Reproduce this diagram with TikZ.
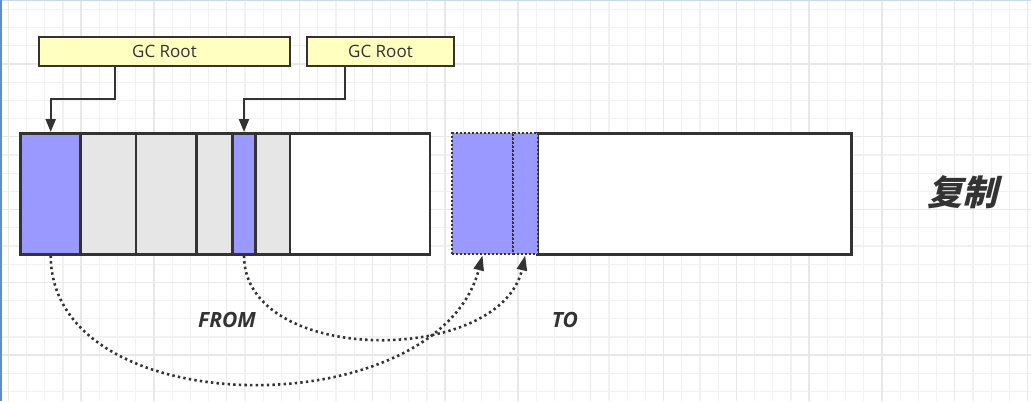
\documentclass[tikz,border=0pt]{standalone}
\usepackage{fontspec}
\setmainfont{Open Sans}
\newfontfamily\cjk[FakeSlant=0.25]{Noto Sans CJK SC}
\usetikzlibrary{arrows.meta,fit}
\definecolor{ink}{HTML}{333333}
\definecolor{blu}{HTML}{9999FF}
\definecolor{gry}{HTML}{E6E6E6}
\definecolor{yel}{HTML}{FFFFC0}
\definecolor{gridminor}{HTML}{F1F1F1}
\definecolor{gridmajor}{HTML}{E8E8E8}
\definecolor{frameblue}{HTML}{5B8FD0}
\definecolor{frametop}{HTML}{C9DAF0}
\tikzset{
  cellbox/.style={draw=ink, line width=2.6bp, inner sep=0pt},
  bluecell/.style={cellbox, fill=blu},
  graycell/.style={cellbox, fill=gry},
  whitecell/.style={cellbox, fill=white},
  dotcell/.style={draw=ink, line width=2.2bp, dash pattern=on 2bp off 2bp, fill=blu, inner sep=0pt},
  rootbox/.style={draw=ink, line width=2.4bp, fill=yel, inner sep=0pt},
  roottext/.style={text=ink, font=\fontsize{17bp}{20bp}\selectfont},
  rootarrow/.style={draw=ink, line width=2.2bp, -{Triangle[length=13bp,width=10bp]}},
  copyarrow/.style={draw=ink, line width=2.6bp, dash pattern=on 2.4bp off 3.2bp, -{Triangle[length=15bp,width=10bp]}},
  lbl/.style={text=ink, font=\fontsize{21bp}{24bp}\selectfont\bfseries\itshape}
}
\begin{document}
\begin{tikzpicture}[x=1bp,y=-1bp]
\useasboundingbox (0,0) rectangle (1031,401);
\fill[white] (0,0) rectangle (1031,401);
% grid
\foreach \i in {0,...,56} \draw[gridminor, line width=1.2bp] ({8.3+18.2*\i},0) -- ({8.3+18.2*\i},401);
\foreach \i in {0,...,21} \draw[gridminor, line width=1.2bp] (0,{9.3+18.2*\i}) -- (1031,{9.3+18.2*\i});
\foreach \i in {0,...,14} \draw[gridmajor, line width=1.4bp] ({8.3+72.8*\i},0) -- ({8.3+72.8*\i},401);
\foreach \i in {0,...,4} \draw[gridmajor, line width=1.4bp] (0,{63.9+72.8*\i}) -- (1031,{63.9+72.8*\i});
% frame edges
\fill[frametop] (0,0) rectangle (1031,1.2);
\fill[frameblue] (0,0) rectangle (1.8,401);

% GC Root boxes
\node[rootbox, fit={(39,37) (290,66)}] (r1) {};
\node[roottext] (r1t) at (r1.center) {GC Root};
\node[rootbox, fit={(307,37) (454,66)}] (r2) {};
\node[roottext] (r2t) at (r2.center) {GC Root};

% FROM bar
\node[whitecell, fit={(20.7,133.3) (430,254.3)}] (from) {};
\node[bluecell, fit={(20.7,133.3) (80.7,254.3)}] (f1) {};
\node[graycell, fit={(80.7,133.3) (136,254.3)}] (f2) {};
\node[graycell, fit={(136,133.3) (196.7,254.3)}] (f3) {};
\node[graycell, fit={(196.7,133.3) (232.3,254.3)}] (f4) {};
\node[bluecell, fit={(232.3,133.3) (255.7,254.3)}] (f5) {};
\node[graycell, fit={(255.7,133.3) (290,254.3)}] (f6) {};

% TO bar
\node[whitecell, fit={(537.7,133.3) (851.7,254.3)}] (to) {};
\node[dotcell, fit={(452.3,133.3) (512.7,254.3)}] (t1) {};
\node[dotcell, fit={(512.7,133.3) (537.7,254.3)}] (t2) {};

% root arrows
\coordinate (s1) at (115.3,66);
\coordinate (s2) at (345,66);
\draw[rootarrow] (s1) -- (115.3,99.3) -| (f1.north);
\draw[rootarrow] (s2) -- (345,99.3) -| (f5.north);

% copy arrows
\draw[copyarrow] (f1.south) .. controls (51,426) and (438,426) .. (t1.south);
\draw[copyarrow] (f5.south) .. controls (244,366) and (500,366) .. (t2.south);

% labels
\node[lbl] (lfrom) at (227,320) {FROM};
\node[lbl] (lto) at (565,320) {TO};
\node[text=ink, font=\cjk\bfseries\fontsize{35bp}{40bp}\selectfont] (copy) at (962,192) {复制};
\end{tikzpicture}
\end{document}
